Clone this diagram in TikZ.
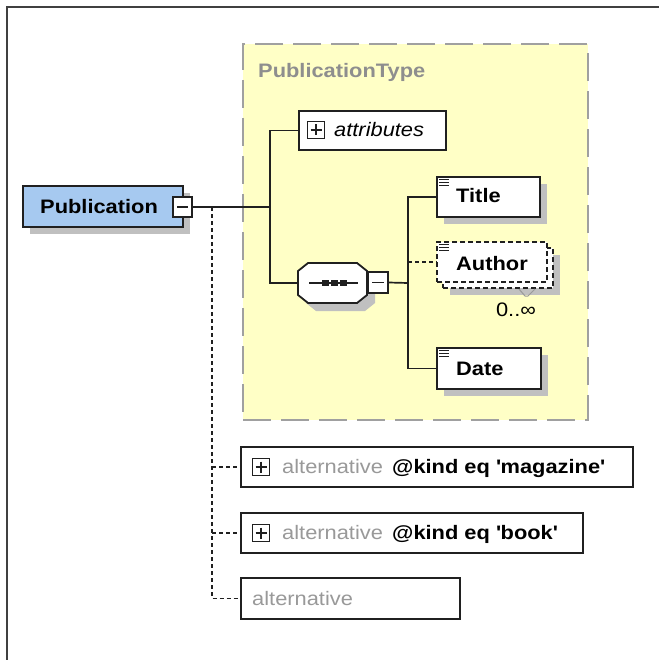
\documentclass[tikz,border=0pt]{standalone}
\usepackage{fontspec}
\setmainfont{Liberation Sans}[FakeStretch=1.12]
\usetikzlibrary{shadows}
\definecolor{yel}{HTML}{FFFFC6}
\definecolor{dashgray}{HTML}{A0A0A0}
\definecolor{ttlgray}{HTML}{8E8E8E}
\definecolor{altgray}{HTML}{999999}
\definecolor{pubblue}{HTML}{A6C9F0}
\definecolor{shadowc}{HTML}{C0C0C0}
\definecolor{bord}{HTML}{202020}
\definecolor{framec}{HTML}{404040}
\newcommand\lstico[1]{\foreach \d in {3.5,6.5,9.5}{\draw[line width=1.2pt,bord] ([shift={(3,\d)}]#1.north west) -- ([shift={(13,\d)}]#1.north west);}}
\newcommand\octopath[2]{(#1+10,#2) -- (#1+59,#2) -- (#1+69,#2+8) -- (#1+69,#2+32) -- (#1+59,#2+40) -- (#1+10,#2+40) -- (#1,#2+32) -- (#1,#2+8) -- cycle}
\begin{document}
\begin{tikzpicture}[x=1pt,y=-1pt,
  font=\fontsize{19.5}{22}\selectfont,
  box/.style={draw=bord, line width=1.8pt, fill=white, inner sep=0pt},
  shad/.style={drop shadow={shadow xshift=7pt, shadow yshift=-7pt, fill=shadowc, opacity=1}},
  conn/.style={line width=1.7pt, draw=bord},
  dconn/.style={conn, dash pattern=on 4pt off 3pt},
  dbox/.style={box, dash pattern=on 5pt off 3pt},
  txt/.style={inner sep=0pt, anchor=base west, text=black},
  gtxt/.style={txt, text=altgray},
  btxt/.style={txt, font=\fontsize{19.5}{22}\selectfont\bfseries},
  pmbox/.style={draw=bord, line width=1.3pt, fill=white, inner sep=0pt},
  minusbox/.style={pmbox, path picture={\draw[line width=1.4pt,bord] ([xshift=4pt]path picture bounding box.west) -- ([xshift=-4pt]path picture bounding box.east);}},
  plusbox/.style={pmbox, minimum size=17pt, path picture={\draw[line width=1.4pt,bord] ([xshift=3pt]path picture bounding box.west) -- ([xshift=-3pt]path picture bounding box.east) ([yshift=-3pt]path picture bounding box.north) -- ([yshift=3pt]path picture bounding box.south);}}
]
\useasboundingbox (0,0) rectangle (659,660);
\fill[white] (0,0) rectangle (659,660);
% frame
\draw[line width=2pt, framec] (7,660) -- (7,7) -- (659,7);
% complex type area
\node[draw=dashgray, fill=yel, line width=2pt, dash pattern=on 28pt off 10pt, minimum width=345pt, minimum height=376pt, inner sep=0pt] (ptype) at (415.5,232) {};
\node[txt, text=ttlgray, font=\fontsize{19.5}{22}\selectfont\bfseries] (ptypeT) at (258,78) {PublicationType};

% Publication element
\node[box, fill=pubblue, shad, minimum width=160pt, minimum height=41pt] (pub) at (103,206.5) {};
\node[btxt] (pubT) at (40,214) {Publication};
\node[minusbox, minimum width=19pt, minimum height=20pt] (pubM) at (182.5,207) {};

% attributes
\node[box, minimum width=147pt, minimum height=39pt] (attr) at (372.5,130.5) {};
\node[plusbox] (attrP) at (316,130) {};
\node[txt, font=\fontsize{19.5}{22}\selectfont\itshape] (attrT) at (334,137) {attributes};

% sequence compositor
\fill[shadowc] \octopath{306}{271};
\draw[line width=1.8pt, bord, fill=white] \octopath{298}{263};
\coordinate (seqW) at (298,283);
\coordinate (seqIn) at (309,283);
\coordinate (seqOut) at (358,283);
\draw[line width=1.7pt, bord] (seqIn) -- (seqOut);
\foreach \xx in {325,334,343} \fill[bord] (\xx-3.5,280) rectangle (\xx+3.5,286);
\node[minusbox, minimum width=20pt, minimum height=21pt] (seqM) at (378,282.5) {};

% Title, Author, Date
\node[box, shad, minimum width=103pt, minimum height=40pt] (title) at (488.5,197) {};
\lstico{title}
\node[btxt] (titleT) at (456,203) {Title};

\node[dbox, shad, minimum width=110pt, minimum height=40pt] (authorB) at (498,268) {};
\node[dbox, minimum width=110pt, minimum height=40pt] (author) at (492,262) {};
\lstico{author}
\node[btxt] (authorT) at (456,270) {Author};
\draw[line width=1pt, altgray] (519,289) -- (525,296) -- (528,296) -- (535,289);
\node[inner sep=0pt, anchor=base, text=black] (authorN) at (516,316) {0..∞};

\node[box, shad, minimum width=104pt, minimum height=41pt] (date) at (489,368.5) {};
\lstico{date}
\node[btxt] (dateT) at (456,375) {Date};

% alternatives
\node[box, minimum width=392pt, minimum height=40pt] (alt1) at (437,467) {};
\node[plusbox] (alt1P) at (261,467) {};
\node[gtxt] (alt1A) at (282,473) {alternative};
\node[btxt] (alt1K) at (392,473) {@kind eq \textquotesingle magazine\textquotesingle};

\node[box, minimum width=342pt, minimum height=40pt] (alt2) at (412,533) {};
\node[plusbox] (alt2P) at (261,533) {};
\node[gtxt] (alt2A) at (282,539) {alternative};
\node[btxt] (alt2K) at (392,539) {@kind eq \textquotesingle book\textquotesingle};

\node[box, minimum width=219pt, minimum height=41pt] (alt3) at (350.5,598.5) {};
\node[gtxt] (alt3A) at (252,605) {alternative};

% connectors
\coordinate (j1) at (270,207);
\coordinate (j2) at (212,207);
\coordinate (j3) at (408,283);
\draw[conn] (pubM.east) -- (j1);
\draw[conn] (attr.west) -| (j1) |- (seqW);
\draw[conn] (seqM.east) -- (j3);
\draw[conn] (title.west) -| (j3) |- (date.west);
\draw[dconn] (j3 |- author.west) -- (author.west);
\draw[dconn] (j2) |- (alt3.west);
\draw[dconn] (alt1.west -| j2) -- (alt1.west);
\draw[dconn] (alt2.west -| j2) -- (alt2.west);
\end{tikzpicture}
\end{document}
